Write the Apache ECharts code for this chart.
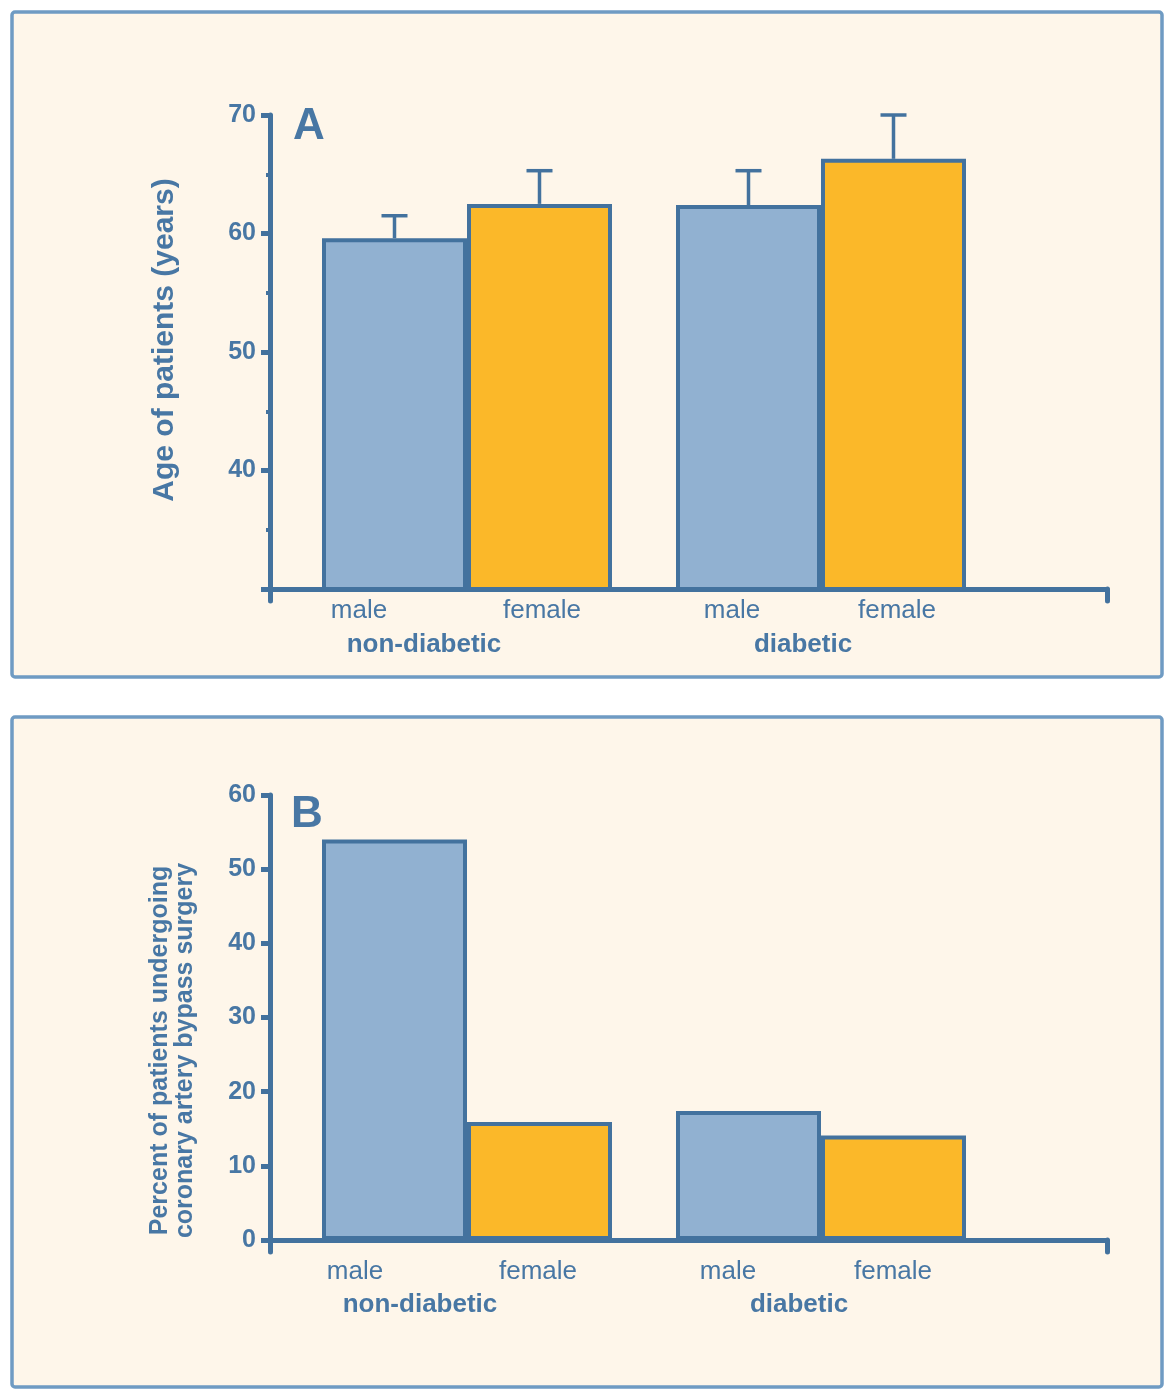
<!DOCTYPE html>
<html>
<head>
<meta charset="utf-8">
<script src="https://cdn.jsdelivr.net/npm/echarts@6/dist/echarts.min.js"></script>
<style>
  html, body { margin: 0; padding: 0; background: #ffffff; }
  #chart { width: 1174px; height: 1395px; }
</style>
</head>
<body>
<div id="chart"></div>
<script>
// ---- data ----
const groups = ['non-diabetic', 'diabetic'];
const sexes = ['male', 'female'];
// Panel A: age of patients (years)
const ageMale = [59.6, 62.4];
const ageFemale = [62.5, 66.3];
const ageMaleErrTop = [61.5, 65.3];
const ageFemaleErrTop = [65.3, 70.0];
const ageTicks = [30, 40, 50, 60, 70];
// Panel B: percent undergoing CABG
const cabgMale = [54.0, 17.4];
const cabgFemale = [15.9, 14.1];
const cabgTicks = [0, 10, 20, 30, 40, 50, 60];

// ---- style ----
const AX = '#43729e';
const TX = '#4877a4';
const BLUE = '#91b1d1';
const ORANGE = '#fbb829';
const FONT = '"Liberation Sans", Arial, sans-serif';
const BAR_W = 145;

function labelRich(lineH, shift) {
  const w = [
    { m: 184, f: 182, s: 34, g: 314, t: 86 },
    { m: 222, f: 108, s: 70, g: 364, t: 36 }
  ];
  const rich = {};
  w.forEach((o, i) => {
    rich['m' + i] = { width: o.m, align: 'center', fontSize: 26, color: TX, fontFamily: FONT, lineHeight: lineH };
    rich['f' + i] = { width: o.f, align: 'center', fontSize: 26, color: TX, fontFamily: FONT, lineHeight: lineH };
    rich['s' + i] = { width: o.s + shift, align: 'center', fontSize: 26, lineHeight: lineH };
    rich['g' + i] = { width: o.g, align: 'center', fontSize: 26, fontWeight: 'bold', color: TX, fontFamily: FONT, lineHeight: lineH };
    rich['t' + i] = { width: o.t + shift, align: 'center', fontSize: 26, lineHeight: lineH };
  });
  return rich;
}
function labelFmt(value, i) {
  return '{m' + i + '|' + sexes[0] + '}{f' + i + '|' + sexes[1] + '}{s' + i + '| }\n' +
         '{g' + i + '|' + value + '}{t' + i + '| }';
}

function errItem(sign) {
  return function (params, api) {
    const top = api.coord([api.value(0), api.value(2)]);
    const base = api.coord([api.value(0), api.value(1)]);
    const x = top[0] + sign * BAR_W / 2;
    return {
      type: 'group',
      children: [
        { type: 'line', shape: { x1: x, y1: base[1], x2: x, y2: top[1] }, style: { stroke: AX, lineWidth: 3.5 } },
        { type: 'line', shape: { x1: x - 13, y1: top[1], x2: x + 13, y2: top[1] }, style: { stroke: AX, lineWidth: 3.5 } }
      ]
    };
  };
}

const chart = echarts.init(document.getElementById('chart'), null, { renderer: 'canvas' });

function frameY(ticks, name, gap, pad, minor, lineH, fs, showMin) {
  return {
    type: 'value', min: ticks[0], max: ticks[ticks.length - 1], interval: ticks[1] - ticks[0],
    name: name, nameLocation: 'middle', nameGap: gap,
    nameTextStyle: { color: TX, fontSize: fs, fontWeight: 'bold', fontFamily: FONT, padding: pad, lineHeight: lineH },
    axisLine: { show: true, lineStyle: { color: AX, width: 5 } },
    axisTick: { show: true, length: 9, lineStyle: { color: AX, width: 5 } },
    minorTick: { show: minor, splitNumber: 2, length: 4, lineStyle: { color: AX, width: 4 } },
    axisLabel: { color: TX, fontSize: 25, fontWeight: 'bold', fontFamily: FONT, margin: 14, showMinLabel: showMin },
    splitLine: { show: false }
  };
}
function frameX() {
  return {
    type: 'value', min: 0, max: 1, interval: 1,
    axisLine: { show: true, lineStyle: { color: AX, width: 5 } },
    axisTick: { show: true, length: 12, lineStyle: { color: AX, width: 5, cap: 'round' } },
    axisLabel: { show: false }, splitLine: { show: false }
  };
}
function barX(lineH, margin, shift) {
  return {
    type: 'category', data: groups,
    axisLine: { show: false }, axisTick: { show: false },
    axisLabel: { interval: 0, margin: margin, formatter: labelFmt, rich: labelRich(lineH, shift) }
  };
}
function barY(ticks) {
  return { type: 'value', min: ticks[0], max: ticks[ticks.length - 1], show: false };
}

const option = {
  backgroundColor: '#ffffff',
  animation: false,
  graphic: [
    { type: 'rect', z: -10, shape: { x: 12, y: 12, width: 1150, height: 665, r: 3 }, style: { fill: '#fef6ea', stroke: '#6f9bc3', lineWidth: 3.5 } },
    { type: 'rect', z: -10, shape: { x: 12, y: 717, width: 1150, height: 670, r: 3 }, style: { fill: '#fef6ea', stroke: '#6f9bc3', lineWidth: 3.5 } },
    { type: 'text', x: 293, y: 127, style: { text: 'A', fill: TX, font: 'bold 44px ' + FONT, textAlign: 'left', textVerticalAlign: 'middle' } },
    { type: 'text', x: 291, y: 815, style: { text: 'B', fill: TX, font: 'bold 44px ' + FONT, textAlign: 'left', textVerticalAlign: 'middle' } }
  ],
  grid: [
    { left: 270, right: 67, top: 115, height: 474 },
    { left: 290, width: 708, top: 115, height: 474 },
    { left: 270, right: 67, top: 795, height: 445 },
    { left: 290, width: 708, top: 795, height: 445 }
  ],
  xAxis: [
    Object.assign(frameX(), { gridIndex: 0 }),
    Object.assign(barX(34, 5, 0), { gridIndex: 1 }),
    Object.assign(frameX(), { gridIndex: 2 }),
    Object.assign(barX(33, 15, 8), { gridIndex: 3 })
  ],
  yAxis: [
    Object.assign(frameY(ageTicks, 'Age of patients (years)', 90, [0, 0, 0, 24], true, 30, 30, false), { gridIndex: 0 }),
    Object.assign(barY(ageTicks), { gridIndex: 1 }),
    Object.assign(frameY(cabgTicks, 'Percent of patients undergoing\ncoronary artery bypass surgery', 72, [0, 66, 0, 0], false, 25, 25, true), { gridIndex: 2 }),
    Object.assign(barY(cabgTicks), { gridIndex: 3 })
  ],
  series: [
    { type: 'bar', name: 'male', xAxisIndex: 1, yAxisIndex: 1, data: ageMale, barWidth: BAR_W, barGap: '0%', z: 1,
      itemStyle: { color: BLUE, borderColor: AX, borderWidth: 4 } },
    { type: 'bar', name: 'female', xAxisIndex: 1, yAxisIndex: 1, data: ageFemale, barWidth: BAR_W, barGap: '0%', z: 1,
      itemStyle: { color: ORANGE, borderColor: AX, borderWidth: 4 } },
    { type: 'custom', xAxisIndex: 1, yAxisIndex: 1, z: 3, renderItem: errItem(-1),
      data: groups.map((g, i) => [i, ageMale[i], ageMaleErrTop[i]]) },
    { type: 'custom', xAxisIndex: 1, yAxisIndex: 1, z: 3, renderItem: errItem(1),
      data: groups.map((g, i) => [i, ageFemale[i], ageFemaleErrTop[i]]) },
    { type: 'bar', name: 'male', xAxisIndex: 3, yAxisIndex: 3, data: cabgMale, barWidth: BAR_W, barGap: '0%', z: 1,
      itemStyle: { color: BLUE, borderColor: AX, borderWidth: 4 } },
    { type: 'bar', name: 'female', xAxisIndex: 3, yAxisIndex: 3, data: cabgFemale, barWidth: BAR_W, barGap: '0%', z: 1,
      itemStyle: { color: ORANGE, borderColor: AX, borderWidth: 4 } }
  ]
};
chart.setOption(option);
</script>
</body>
</html>
